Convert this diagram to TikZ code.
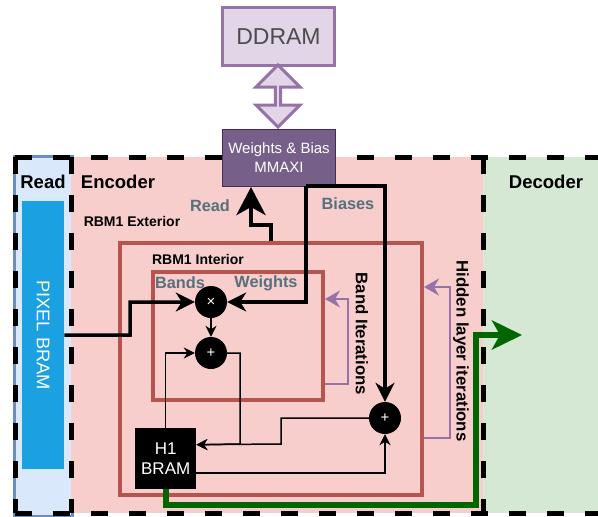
\documentclass[tikz,border=0pt]{standalone}
\usepackage{fontspec}
\setmainfont{Liberation Sans}
\usetikzlibrary{arrows.meta, shapes.arrows, positioning, calc}
\definecolor{encfill}{HTML}{F8CECC}
\definecolor{rbmedge}{HTML}{B85450}
\definecolor{decfill}{HTML}{D5E8D4}
\definecolor{readfill}{HTML}{DAE8FC}
\definecolor{readedge}{HTML}{6C8EBF}
\definecolor{pixelblue}{HTML}{1BA1E2}
\definecolor{ddfill}{HTML}{E1D5E7}
\definecolor{ddedge}{HTML}{9673A6}
\definecolor{axifill}{HTML}{76608A}
\definecolor{axiedge}{HTML}{432D57}
\definecolor{portgray}{HTML}{56707C}
\definecolor{outgreen}{HTML}{006600}

\begin{document}
\begin{tikzpicture}[x=1pt, y=-1pt,
    area/.style={fill=#1, draw=none, inner sep=0pt, anchor=north west},
    rbmframe/.style={draw=rbmedge, line width=4pt, inner sep=0pt, anchor=north west},
    opnode/.style={circle, fill=black, text=white, minimum size=32pt, inner sep=0pt, font=\fontsize{15}{15}\selectfont},
    titlelabel/.style={font=\fontsize{18.5}{20}\selectfont\bfseries},
    rbmlabel/.style={font=\fontsize{14}{16}\selectfont\bfseries},
    portlabel/.style={font=\fontsize{16.3}{18}\selectfont\bfseries, text=portgray},
    sidelabel/.style={font=\fontsize{16.8}{18}\selectfont\bfseries, rotate=-90},
    bus/.style={-{Stealth[length=19pt, width=19pt, inset=6pt]}, line width=3.5pt},
    wire/.style={-{Stealth[length=11pt, width=11pt, inset=3.5pt]}, line width=1.5pt},
    iterline/.style={-{Stealth[length=15pt, width=17pt, inset=5pt]}, draw=ddedge, line width=2.5pt},
    dashframe/.style={line width=5pt, dash pattern=on 17pt off 21pt},
]
\useasboundingbox (0,0) rectangle (598,517);
% Regions
\node[area=readfill, draw=readedge, line width=3pt, minimum width=58pt, minimum height=360pt] (readcol) at (13,155) {};
\node[area=encfill, minimum width=412pt, minimum height=356pt] (enc) at (71,157) {};
\node[area=decfill, minimum width=115pt, minimum height=356pt] (dec) at (483,157) {};
\draw[dashframe] (15,157) -- (598,157);
\draw[dashframe] (15,513) -- (598,513);
\draw[dashframe] (15,157) -- (15,513);
\draw[dashframe] (enc.north west) -- (enc.south west);
\draw[dashframe] (dec.north west) -- (dec.south west);
\node[titlelabel] (readtitle) at (43,182) {Read};
\node[titlelabel] (enctitle) at (118,182) {Encoder};
\node[titlelabel] (dectitle) at (546,182) {Decoder};
% Memories
\node[area=ddfill, draw=ddedge, line width=3pt, minimum width=112pt, minimum height=58pt] (ddram) at (221,6) {};
\node[text=black!70, font=\fontsize{23}{23}\selectfont] at (ddram.center) {DDRAM};
\node[double arrow, draw=ddedge, fill=ddfill, line width=3pt, rotate=90, inner sep=0pt,
      minimum height=62pt, minimum width=44pt, double arrow head extend=11pt] (link) at (278,96) {};
\node[area=axifill, draw=axiedge, line width=1pt, minimum width=113pt, minimum height=57pt] (mmaxi) at (222,129) {};
\node[text=white, align=center, font=\fontsize{15}{19}\selectfont] at (mmaxi.center) {Weights \& Bias\\MMAXI};
\node[area=pixelblue, minimum width=42pt, minimum height=268pt] (pixel) at (22,201) {};
\node[text=white, rotate=-90, font=\fontsize{18.3}{18}\selectfont] at (pixel.center) {PIXEL BRAM};
% RBM1
\node[rbmlabel] (extlabel) at (132,221) {RBM1 Exterior};
\node[rbmframe, minimum width=302pt, minimum height=252pt] (rbmin) at (118,241) {};
\node[rbmlabel] (inlabel) at (198,259) {RBM1 Interior};
\node[rbmframe, minimum width=170pt, minimum height=128pt] (band) at (151,270) {};
\node[portlabel] (readlabel) at (210,206) {Read};
\node[portlabel] (biaslabel) at (348,204) {Biases};
\node[portlabel] (bandslabel) at (180,283) {Bands};
\node[portlabel] (wlabel) at (266,283) {Weights};
\node[sidelabel] (bandit) at (362,334) {Band Iterations};
\node[sidelabel] (hidit) at (461,351) {Hidden layer iterations};
\node[opnode] (mul) at (211,302) {×};
\node[opnode] (add) at (211,353) {+};
\node[opnode] (addb) at (385,418) {+};
\node[area=black, minimum width=61pt, minimum height=61pt] (hbram) at (135,428) {};
\node[text=white, align=center, font=\fontsize{17}{20}\selectfont] at (hbram.center) {H1\\BRAM};
% Connectors
\coordinate (tap) at (306,186);
\coordinate (dectip) at (522,335);
\draw[bus] (pixel.east) -- (130,335) |- (mul.west);
\draw[bus] (tap) |- (mul.east);
\draw[bus] (tap) -| (addb.north);
\draw[-{Stealth[length=28pt, width=29pt, inset=8pt]}, line width=4.5pt]
    (rbmin.north) -- ++(0,-16) -| ([xshift=-28pt]mmaxi.south);
\draw[wire] (mul.south) -- (add.north);
\draw[wire] (hbram.north) |- (add.west);
\draw[wire] (add.east) -| (240,444) -- ([yshift=14pt]hbram.east);
\draw[wire] (addb.west) -| (281,444) -- ([yshift=14pt]hbram.east);
\draw[wire] ([yshift=-14.5pt]hbram.east) -| (addb.south);
\draw[iterline] ([yshift=-48pt]band.east) -- ++(23,0) |- ([yshift=37pt]band.east);
\draw[iterline] ([yshift=-69pt]rbmin.east) -- ++(26,0) |- ([yshift=82pt]rbmin.east);
\draw[-{Stealth[length=30pt, width=29pt, inset=8pt]}, color=outgreen, line width=6pt]
    (hbram.south) |- (476,505) |- (dectip);
\end{tikzpicture}
\end{document}
